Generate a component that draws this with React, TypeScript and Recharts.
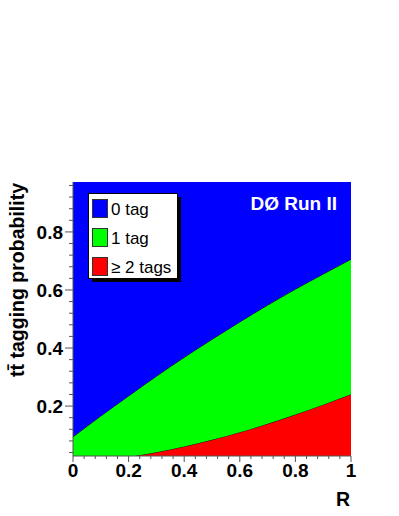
import { AreaChart, Area, XAxis, YAxis } from "recharts"

// tagging probability vs R
const rValues = [0, 0.1, 0.2, 0.3, 0.4, 0.5, 0.6, 0.7, 0.8, 0.9, 1.0]
const twoTags = [0.0, 0.011, 0.025, 0.041, 0.061, 0.084, 0.11, 0.139, 0.171, 0.205, 0.241]
const oneTag = [0.094, 0.155, 0.21, 0.262, 0.307, 0.346, 0.38, 0.409, 0.432, 0.45, 0.465]
const zeroTag = [0.906, 0.834, 0.765, 0.697, 0.632, 0.57, 0.51, 0.452, 0.397, 0.345, 0.294]

const xTicks = [
  0, 0.04, 0.08, 0.12, 0.16, 0.2, 0.24, 0.28, 0.32, 0.36, 0.4, 0.44, 0.48, 0.52, 0.56, 0.6, 0.64, 0.68,
  0.72, 0.76, 0.8, 0.84, 0.88, 0.92, 0.96, 1,
]
const yTicks = [
  0.04, 0.08, 0.12, 0.16, 0.2, 0.24, 0.28, 0.32, 0.36, 0.4, 0.44, 0.48, 0.52, 0.56, 0.6, 0.64, 0.68, 0.72,
  0.76, 0.8, 0.84, 0.88, 0.92, 0.96,
]

const legendItems = [
  { label: "0 tag", color: "#0000ff" },
  { label: "1 tag", color: "#00ff00" },
  { label: "\u2265 2 tags", color: "#ff0000" },
]

const data = rValues.map((r, i) => ({ r, p2: twoTags[i], p1: oneTag[i], p0: zeroTag[i] }))

const FONT = "'Liberation Sans', Arial, Helvetica, sans-serif"

const isMajor = (v: number) => Math.abs(v * 5 - Math.round(v * 5)) < 1e-6
const fmt = (v: number) => (v === 0 ? "0" : v === 1 ? "1" : v.toFixed(1))

function XTick(props: any) {
  const { x, y, payload } = props
  const major = isMajor(payload.value)
  return (
    <g>
      <line x1={x} x2={x} y1={y} y2={y + (major ? 6 : 3)} stroke="#555" />
      {major && (
        <text x={x} y={y + 21} textAnchor="middle" fontFamily={FONT} fontWeight="bold" fontSize={19} fill="#000">
          {fmt(payload.value)}
        </text>
      )}
    </g>
  )
}

function YTick(props: any) {
  const { x, y, payload } = props
  const major = isMajor(payload.value)
  return (
    <g>
      <line x1={x - (major ? 8 : 4)} x2={x} y1={y} y2={y} stroke="#555" />
      {major && (
        <text x={x - 10} y={y + 7} textAnchor="end" fontFamily={FONT} fontWeight="bold" fontSize={19} fill="#000">
          {fmt(payload.value)}
        </text>
      )}
    </g>
  )
}

export default function App() {
  return (
    <div style={{ position: "absolute", left: 0, top: 0, width: 399, height: 516, background: "#fff" }}>
      <AreaChart width={399} height={516} data={data} margin={{ top: 182, right: 48, bottom: 0, left: 0 }}>
        <XAxis
          dataKey="r"
          type="number"
          domain={[0, 1]}
          ticks={xTicks}
          interval={0}
          tick={<XTick />}
          tickLine={false}
          tickSize={0}
          tickMargin={0}
          height={60}
          axisLine={{ stroke: "#555" }}
        />
        <YAxis
          type="number"
          domain={[0.028, 0.972]}
          allowDataOverflow
          ticks={yTicks}
          interval={0}
          tick={<YTick />}
          tickLine={false}
          tickSize={0}
          tickMargin={0}
          width={73}
          axisLine={{ stroke: "#555" }}
        />
        <Area
          type="monotone"
          dataKey="p2"
          stackId="tags"
          fill="#ff0000"
          fillOpacity={1}
          stroke="#000"
          strokeWidth={1}
          isAnimationActive={false}
        />
        <Area
          type="monotone"
          dataKey="p1"
          stackId="tags"
          fill="#00ff00"
          fillOpacity={1}
          stroke="#000"
          strokeWidth={1}
          isAnimationActive={false}
        />
        <Area
          type="monotone"
          dataKey="p0"
          stackId="tags"
          fill="#0000ff"
          fillOpacity={1}
          stroke="none"
          isAnimationActive={false}
        />
      </AreaChart>
      <svg width={399} height={516} style={{ position: "absolute", left: 0, top: 0, pointerEvents: "none" }}>
        <text
          x={24}
          y={183}
          transform="rotate(-90 24 183)"
          textAnchor="end"
          fontFamily={FONT}
          fontWeight="bold"
          fontSize={19.5}
          fill="#000"
        >
          t{"t\u0304"} tagging probability
        </text>
        <text x={350} y={506} textAnchor="end" fontFamily={FONT} fontWeight="bold" fontSize={19.5} fill="#000">
          R
        </text>
        <text x={337} y={210} textAnchor="end" fontFamily={FONT} fontWeight="bold" fontSize={19} fill="#fff">
          DØ Run II
        </text>
        <rect x={92} y={197} width={89} height={85} fill="#000" />
        <rect x={88.5} y={193.5} width={89} height={85} fill="#fff" stroke="#000" />
        {legendItems.map((item, i) => (
          <g key={item.label}>
            <rect x={92.5} y={199.5 + i * 29} width={15} height={18} fill={item.color} stroke="#333" />
            <text x={111} y={215 + i * 29} fontFamily={FONT} fontSize={17} fill="#000">
              {item.label}
            </text>
          </g>
        ))}
      </svg>
    </div>
  )
}
